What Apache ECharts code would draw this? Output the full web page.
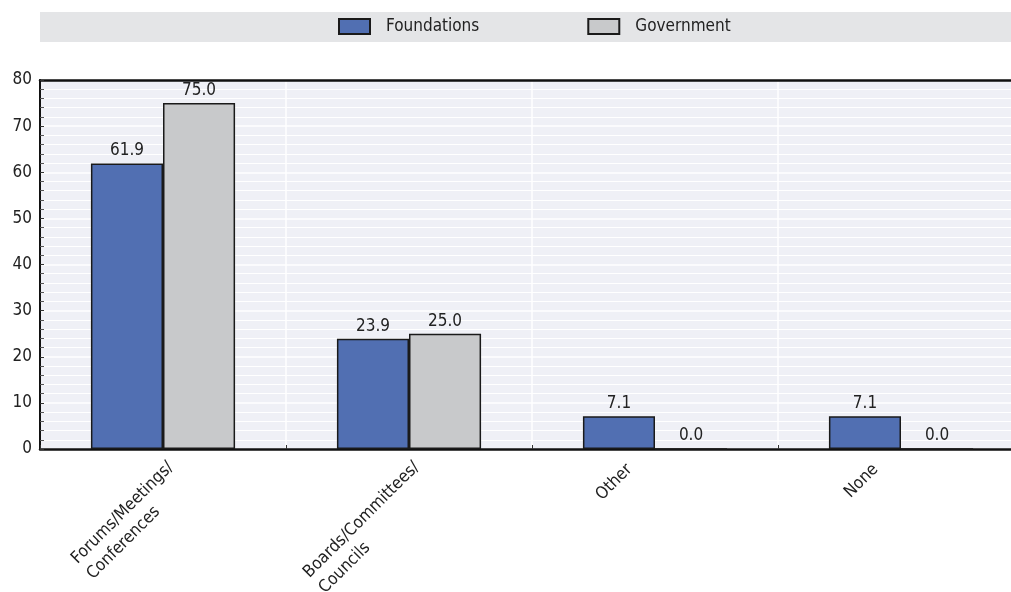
<!DOCTYPE html>
<html>
<head>
<meta charset="utf-8">
<script src="https://cdn.jsdelivr.net/npm/echarts@6/dist/echarts.min.js"></script>
<style>
html,body{margin:0;padding:0;background:#fff;}
#chart{width:1011px;height:592px;}
</style>
</head>
<body>
<div id="chart"></div>
<script>
var categories = ['Forums/Meetings/\nConferences', 'Boards/Committees/\nCouncils', 'Other', 'None'];
var foundations = [61.9, 23.9, 7.1, 7.1];
var government = [75.0, 25.0, 0.0, 0.0];
var seriesNames = ['Foundations', 'Government'];
var yTicks = [0, 10, 20, 30, 40, 50, 60, 70, 80];

var FONT = "'Liberation Sans Narrow', 'DejaVu Sans Condensed', 'Roboto', sans-serif";
var FS = 17;
var chart = echarts.init(document.getElementById('chart'), null, {renderer: 'canvas'});

function barLabel() {
  return {
    show: true, position: 'top', distance: 4,
    fontFamily: FONT, fontSize: FS, color: '#222',
    formatter: function (p) { return p.value.toFixed(1); }
  };
}

// single-line category labels sit further left, as in the original layout
var xAxisData = categories.map(function (c) {
  return c.indexOf('\n') < 0
    ? {value: c, textStyle: {verticalAlign: 'bottom', padding: [0, 25, 0, 0]}}
    : c;
});

chart.setOption({
  animation: false,
  backgroundColor: '#fff',
  textStyle: {fontFamily: FONT},
  graphic: [{
    type: 'rect', left: 40, top: 12, z: -1,
    shape: {width: 971, height: 30},
    style: {fill: '#E4E5E7'}
  }],
  legend: {
    left: 338, top: 18, padding: 0,
    icon: 'rect',
    itemWidth: 31, itemHeight: 15, itemGap: 108,
    textStyle: {fontFamily: FONT, fontSize: FS, color: '#222', padding: [0, 0, 0, 11]},
    data: seriesNames
  },
  grid: {
    left: 40, top: 80, right: -13, bottom: 143,
    show: true, backgroundColor: '#EFF0F6', borderWidth: 0,
    containLabel: false,
    outerBoundsMode: 'none'
  },
  xAxis: [{
    type: 'category',
    data: xAxisData,
    axisLine: {lineStyle: {color: '#111', width: 2.5}},
    axisTick: {show: true, inside: true, length: 4, lineStyle: {color: '#333'}},
    splitLine: {show: true, lineStyle: {color: '#fff', width: 1.5}},
    axisLabel: {
      rotate: 45, margin: 8, interval: 0,
      align: 'right', verticalAlign: 'top',
      fontFamily: FONT, fontSize: FS, color: '#222', lineHeight: 22,
      formatter: function (v) {
        return v.split('\n').map(function (s) { return '{a|' + s + '}'; }).join('\n');
      },
      rich: {a: {fontFamily: FONT, fontSize: FS, color: '#222', lineHeight: 22, align: 'left'}}
    }
  }, {
    type: 'category',
    position: 'top',
    data: categories,
    axisLine: {lineStyle: {color: '#111', width: 2.5}},
    axisTick: {show: false},
    axisLabel: {show: false},
    splitLine: {show: false}
  }],
  yAxis: {
    type: 'value',
    min: yTicks[0], max: yTicks[yTicks.length - 1], interval: 10,
    axisLine: {show: true, lineStyle: {color: '#111', width: 2}},
    axisTick: {show: true, inside: true, length: 4, lineStyle: {color: '#333'}},
    minorTick: {show: true, splitNumber: 5, length: 4, lineStyle: {color: '#555'}},
    splitLine: {show: true, lineStyle: {color: '#fff', width: 1.5}},
    minorSplitLine: {show: true, lineStyle: {color: '#fff', width: 1.2}},
    axisLabel: {fontFamily: FONT, fontSize: FS, color: '#222', margin: 8}
  },
  series: [{
    name: seriesNames[0], type: 'bar', data: foundations,
    barWidth: '29.3%', barGap: '0%',
    itemStyle: {color: '#516FB2', borderColor: '#1a1a1a', borderWidth: 1.5},
    label: barLabel()
  }, {
    name: seriesNames[1], type: 'bar', data: government,
    barWidth: '29.3%', barGap: '0%',
    itemStyle: {color: '#C8C9CB', borderColor: '#1a1a1a', borderWidth: 1.5},
    label: barLabel()
  }]
});
</script>
</body>
</html>
